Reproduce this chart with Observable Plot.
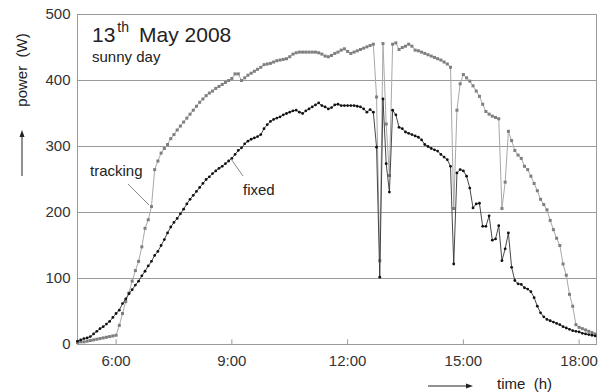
<!DOCTYPE html>
<html><head><meta charset="utf-8">
<script src="https://cdn.jsdelivr.net/npm/d3@7"></script>
<script src="https://cdn.jsdelivr.net/npm/@observablehq/plot@0.6"></script>
<style>body{margin:0;background:#fff}</style>
</head><body><div id="chart"></div>
<script>
// time of day in minutes (5-minute samples)
const timeMinutes = [
300,305,310,315,320,325,330,335,340,345,350,355,
360,365,370,375,380,385,390,395,400,405,410,415,
420,425,430,435,440,445,450,455,460,465,470,475,
480,485,490,495,500,505,510,515,520,525,530,535,
540,545,550,555,560,565,570,575,580,585,590,595,
600,605,610,615,620,625,630,635,640,645,650,655,
660,665,670,675,680,685,690,695,700,705,710,715,
720,725,730,735,740,745,750,755,760,765,770,775,
780,785,790,795,800,805,810,815,820,825,830,835,
840,845,850,855,860,865,870,875,880,885,890,895,
900,905,910,915,920,925,930,935,940,945,950,955,
960,965,970,975,980,985,990,995,1000,1005,1010,1015,
1020,1025,1030,1035,1040,1045,1050,1055,1060,1065,1070,1075,
1080,1085,1090,1095,1100,1105];

// power of the tracking system (W)
const trackingPower = [
3,4,4,5,6,7,8,9,10,11,12,13,
14,29,47,65,78,96,112,126,148,176,189,209,
265,278,290,297,303,312,318,325,331,337,343,349,
355,361,367,372,377,381,384,388,391,394,397,400,
403,410,410,400,404,408,411,414,417,420,424,425,
426,428,430,431,432,433,436,440,442,443,443,443,
443,443,443,442,440,437,436,438,441,443,446,448,
444,441,443,445,447,449,451,453,455,375,127,456,
334,256,455,457,447,450,452,455,452,446,445,443,
441,439,437,435,433,431,428,425,420,206,355,395,
409,404,399,392,384,376,364,353,349,346,344,342,
206,246,323,309,294,287,282,270,265,255,244,233,
220,212,204,188,174,161,150,122,105,76,58,30,
26,24,22,20,18,16];

// power of the fixed system (W)
const fixedPower = [
5,7,9,10,12,16,20,24,27,31,35,41,
47,52,62,69,77,83,90,96,104,111,119,126,
135,141,150,159,169,178,185,191,198,205,213,220,
226,232,238,244,250,254,259,263,267,270,274,278,
282,288,294,298,304,308,311,313,315,318,327,333,
338,341,343,345,348,350,352,354,355,352,350,354,
357,360,363,366,362,360,357,359,363,364,362,362,
362,362,362,361,360,357,352,356,352,299,102,372,
274,231,355,348,329,327,322,320,318,316,314,310,
303,300,297,295,293,288,284,280,270,122,260,265,
263,255,237,207,213,214,179,179,195,158,160,180,
127,145,169,117,97,92,91,86,84,80,71,58,
48,42,38,36,34,32,30,27,25,23,21,20,
19,17,16,15,14,13];

const xTicks = [6, 9, 12, 15, 18];
const xTickLabels = ["6:00", "9:00", "12:00", "15:00", "18:00"];
const yTicks = [0, 100, 200, 300, 400, 500];
const gridValues = [100, 200, 300, 400];
const xDomain = [5, 18.45];
const yDomain = [0, 500];

const tracking = timeMinutes.map((m, i) => ({t: m / 60, p: trackingPower[i]}));
const fixed = timeMinutes.map((m, i) => ({t: m / 60, p: fixedPower[i]}));

const font = "'Liberation Sans', Arial, sans-serif";

const plot = Plot.plot({
  width: 601,
  height: 392,
  marginLeft: 77,
  marginRight: 5,
  marginTop: 14,
  marginBottom: 48,
  style: {fontFamily: font, fontSize: "15px", color: "#333", background: "#fff", overflow: "visible"},
  x: {domain: xDomain, ticks: xTicks, tickFormat: d => xTickLabels[xTicks.indexOf(d)], tickSize: 0, tickPadding: 11, label: null},
  y: {domain: yDomain, ticks: yTicks, tickSize: 0, tickPadding: 7, label: null},
  marks: [
    Plot.ruleY(gridValues, {stroke: "#9a9a9a", strokeWidth: 1}),
    Plot.ruleX(xTicks, {y1: 0, y2: 7, stroke: "#9a9a9a"}),
    Plot.frame({stroke: "#9a9a9a"}),
    Plot.line(tracking, {x: "t", y: "p", stroke: "#a8a8a8", strokeWidth: 1}),
    Plot.dot(tracking, {x: "t", y: "p", symbol: "square", r: 1.7, fill: "#7f7f7f", stroke: "none"}),
    Plot.line(fixed, {x: "t", y: "p", stroke: "#333", strokeWidth: 0.9}),
    Plot.dot(fixed, {x: "t", y: "p", symbol: "circle", r: 1.4, fill: "#111", stroke: "none"})
  ]
});
document.getElementById("chart").append(plot);

// decorations (title, annotations, axis labels with arrows)
const svg = d3.select(plot);
const g = svg.append("g").attr("font-family", font).attr("fill", "#222").attr("text-anchor", "start");

const title = g.append("text").attr("x", 92).attr("y", 42).attr("font-size", 21);
title.append("tspan").text("13");
title.append("tspan").attr("dy", -10).attr("dx", 2).attr("font-size", 14).text("th");
title.append("tspan").attr("dy", 10).attr("dx", 10).attr("font-size", 21).text("May 2008");

g.append("text").attr("x", 92).attr("y", 62).attr("font-size", 15).text("sunny day");

g.append("text").attr("x", 90).attr("y", 176).attr("font-size", 15).text("tracking");
g.append("text").attr("x", 243).attr("y", 195).attr("font-size", 15).text("fixed");
g.append("line").attr("x1", 128).attr("y1", 184).attr("x2", 149).attr("y2", 205).attr("stroke", "#888");
g.append("line").attr("x1", 231).attr("y1", 159).attr("x2", 243).attr("y2", 176).attr("stroke", "#888");

// y label
g.append("text").attr("transform", "translate(27,70) rotate(-90)").attr("text-anchor", "middle")
  .attr("font-size", 15).text("power\u00a0\u00a0(W)");
g.append("line").attr("x1", 22).attr("y1", 176).attr("x2", 22).attr("y2", 136).attr("stroke", "#222");
g.append("path").attr("d", "M22,130 L19.5,137 L24.5,137 Z").attr("fill", "#222");

// x label
g.append("text").attr("x", 497).attr("y", 389).attr("font-size", 15).text("time\u00a0\u00a0(h)");
g.append("line").attr("x1", 428).attr("y1", 386).attr("x2", 467).attr("y2", 386).attr("stroke", "#222");
g.append("path").attr("d", "M473,386 L466,383.5 L466,388.5 Z").attr("fill", "#222");
</script>
</body></html>
